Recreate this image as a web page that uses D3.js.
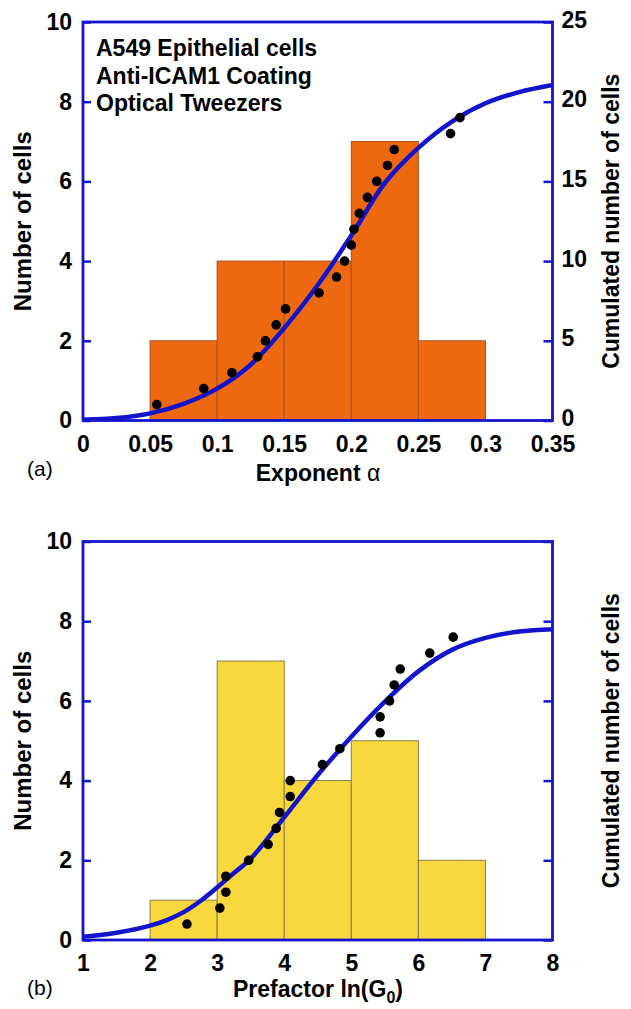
<!DOCTYPE html>
<html>
<head>
<meta charset="utf-8">
<script src="https://cdn.jsdelivr.net/npm/d3@7"></script>
<style>
  body { margin: 0; background: #fff; }
  text { font-family: "Liberation Sans", Arial, sans-serif; }
</style>
</head>
<body>
<svg width="631" height="1009"></svg>
<script>
// ---- data ----
// (a) exponent alpha
const alphaBins = [[0.05, 0.1], [0.1, 0.15], [0.15, 0.2], [0.2, 0.25], [0.25, 0.3]];
const alphaCounts = [2, 4, 4, 7, 2];
const alphaPointsX = [0.055, 0.09, 0.111, 0.13, 0.136, 0.144, 0.151, 0.176, 0.189, 0.195,
                      0.2, 0.202, 0.206, 0.212, 0.219, 0.227, 0.232, 0.274, 0.281];
const alphaPointsCum = d3.range(1, 20);
const alphaFitX = [0, 0.025, 0.05, 0.075, 0.1, 0.125, 0.15, 0.175, 0.2, 0.225, 0.25, 0.275, 0.3, 0.325, 0.35];
const alphaFitCum = [0.05, 0.15, 0.45, 1.05, 2.0, 3.5, 5.8, 8.5, 11.6, 14.9, 17.1, 18.75, 19.9, 20.6, 21.05];

// (b) prefactor ln(G0)
const g0Bins = [[2, 3], [3, 4], [4, 5], [5, 6], [6, 7]];
const g0Counts = [1, 7, 4, 5, 2];
const g0PointsX = [2.55, 3.04, 3.13, 3.13, 3.47, 3.76, 3.88, 3.93, 4.09, 4.09,
                   4.57, 4.83, 5.43, 5.43, 5.57, 5.64, 5.73, 6.17, 6.52];
const g0PointsCum = d3.range(1, 20);
const g0FitX = [1, 1.5, 2, 2.25, 2.5, 2.75, 3, 3.25, 3.5, 4, 4.5, 5, 5.5, 6, 6.5, 7, 7.5, 8];
const g0FitCum = [0.2, 0.45, 0.9, 1.25, 1.75, 2.45, 3.3, 4.2, 5.1, 7.7, 10.35, 12.75, 14.95, 16.85, 18.2, 18.95, 19.35, 19.5];

const leftTicks = [0, 2, 4, 6, 8, 10];
const rightTicks = [0, 5, 10, 15, 20, 25];

const blue = '#1414cc';
const svg = d3.select('svg');

function panel(opt) {
  const left = 83, right = 552.5, top = opt.top, bottom = opt.top + 398.5;
  const x = d3.scaleLinear().domain(opt.xDomain).range([left, right]);
  const y = d3.scaleLinear().domain([0, 10]).range([bottom, top]);
  const yR = d3.scaleLinear().domain([0, 25]).range([bottom, top]);
  const g = svg.append('g');

  const clipId = 'clip' + opt.id;
  g.append('clipPath').attr('id', clipId)
    .append('rect').attr('x', left).attr('y', top).attr('width', right - left).attr('height', bottom - top);

  // histogram bars
  g.selectAll('rect.bar')
    .data(opt.bins.map((b, i) => ({b, n: opt.counts[i]})))
    .enter().append('rect')
    .attr('class', 'bar')
    .attr('x', d => x(d.b[0]))
    .attr('width', d => x(d.b[1]) - x(d.b[0]))
    .attr('y', d => y(d.n))
    .attr('height', d => y(0) - y(d.n))
    .style('fill', opt.fill)
    .style('stroke', opt.edge)
    .style('stroke-width', 1);

  // fitted cumulative curve
  const line = d3.line()
    .x(d => x(d[0]))
    .y(d => yR(d[1]))
    .curve(d3.curveCatmullRom);
  g.append('path')
    .datum(opt.fitX.map((v, i) => [v, opt.fitCum[i]]))
    .attr('d', line)
    .attr('clip-path', `url(#${clipId})`)
    .style('fill', 'none')
    .style('stroke', blue)
    .style('stroke-width', 4.5)
    .style('stroke-linecap', 'round');

  // cumulated points
  g.selectAll('circle.pt')
    .data(opt.ptsX.map((v, i) => [v, opt.ptsCum[i]]))
    .enter().append('circle')
    .attr('class', 'pt')
    .attr('cx', d => x(d[0]))
    .attr('cy', d => yR(d[1]))
    .attr('r', 4.8)
    .style('fill', '#000');

  // axes
  const axL = g.append('g').attr('transform', `translate(${left},0)`)
    .call(d3.axisLeft(y).tickValues(leftTicks).tickSize(-8).tickPadding(11));
  const axR = g.append('g').attr('transform', `translate(${right},0)`)
    .call(d3.axisRight(yR).tickValues(rightTicks).tickSize(-9).tickPadding(9)
      .tickFormat(opt.rightLabels ? d3.format('d') : () => ''));
  axR.selectAll('text').attr('dy', '0.22em');
  const axB = g.append('g').attr('transform', `translate(0,${bottom})`)
    .call(d3.axisBottom(x).tickValues(opt.xTicks).tickSize(0).tickPadding(15)
      .tickFormat(opt.xFormat));
  [axL, axR, axB].forEach(a => {
    a.select('.domain').remove();
    a.selectAll('line').style('stroke', blue).style('stroke-width', 2.5);
    a.selectAll('text').style('font-size', '23px').style('font-weight', 'bold').style('fill', '#000');
  });

  // frame
  g.append('rect')
    .attr('x', left).attr('y', top).attr('width', right - left).attr('height', bottom - top)
    .style('fill', 'none').style('stroke', blue).style('stroke-width', 2.8);

  // axis titles
  g.append('text')
    .attr('transform', `translate(31,${(top + bottom) / 2}) rotate(-90)`)
    .attr('text-anchor', 'middle')
    .style('font-size', '24px').style('font-weight', 'bold')
    .text('Number of cells');
  g.append('text')
    .attr('transform', `translate(619,${(top + bottom) / 2}) rotate(-90)`)
    .attr('text-anchor', 'middle')
    .style('font-size', '23px').style('font-weight', 'bold')
    .text('Cumulated number of cells');
  const xt = g.append('text')
    .attr('x', 318).attr('y', bottom + opt.titleDy)
    .attr('text-anchor', 'middle')
    .style('font-size', '23px').style('font-weight', 'bold');
  opt.xTitle(xt);
  g.append('text')
    .attr('x', 27).attr('y', bottom + 55)
    .style('font-size', '21px')
    .text(opt.tag);
  return g;
}

const ga = panel({
  id: 'a', top: 22, xDomain: [0, 0.35],
  bins: alphaBins, counts: alphaCounts, fill: '#ee6810', edge: '#a8501c',
  ptsX: alphaPointsX, ptsCum: alphaPointsCum, fitX: alphaFitX, fitCum: alphaFitCum,
  xTicks: [0, 0.05, 0.1, 0.15, 0.2, 0.25, 0.3, 0.35],
  xFormat: d => d === 0 ? '0' : String(+d.toFixed(2)),
  rightLabels: true, tag: '(a)', titleDy: 60,
  xTitle: t => { t.append('tspan').text('Exponent '); t.append('tspan').style('font-weight', 'normal').text('α'); }
});

ga.selectAll('text.note')
  .data(['A549 Epithelial cells', 'Anti-ICAM1 Coating', 'Optical Tweezers'])
  .enter().append('text')
  .attr('class', 'note')
  .attr('x', 96).attr('y', (d, i) => 56 + i * 27.5)
  .style('font-size', '23px').style('font-weight', 'bold')
  .text(d => d);

panel({
  id: 'b', top: 541.5, xDomain: [1, 8],
  bins: g0Bins, counts: g0Counts, fill: '#f8d83c', edge: '#8c7c48',
  ptsX: g0PointsX, ptsCum: g0PointsCum, fitX: g0FitX, fitCum: g0FitCum,
  xTicks: [1, 2, 3, 4, 5, 6, 7, 8],
  xFormat: d3.format('d'),
  rightLabels: false, tag: '(b)', titleDy: 57,
  xTitle: t => {
    t.append('tspan').text('Prefactor ln(G');
    t.append('tspan').attr('dy', 6).style('font-size', '16px').text('0');
    t.append('tspan').attr('dy', -6).text(')');
  }
});
</script>
</body>
</html>
